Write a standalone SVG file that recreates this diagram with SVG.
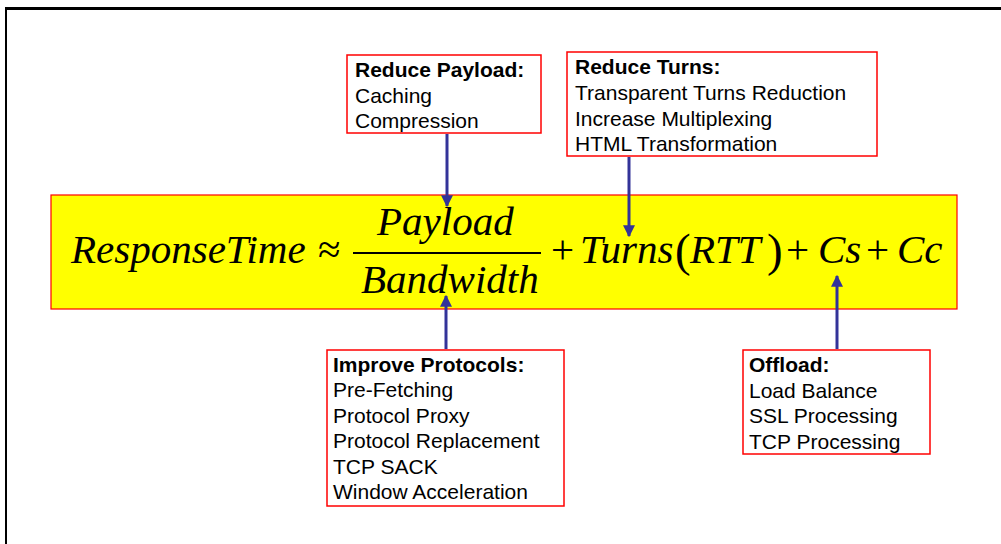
<svg xmlns="http://www.w3.org/2000/svg" width="1001" height="544" viewBox="0 0 1001 544">
<defs>
<style>
.box{fill:#ffffff;stroke:#ff0000;stroke-width:1.5}
.t{font-family:"Liberation Sans",Arial,sans-serif;font-size:21px;fill:#000}
.b{font-weight:bold}
.m{font-family:"Liberation Serif","Times New Roman",serif;font-size:41px;font-style:italic;fill:#000}
.o{font-family:"Liberation Serif","Times New Roman",serif;font-size:41px;fill:#000}
.p{font-family:"Liberation Serif","Times New Roman",serif;font-size:47px;fill:#000}
.c{stroke:#333399;stroke-width:3;fill:none}
</style>
<marker id="ah" markerWidth="4" markerHeight="4" refX="3.6" refY="2" orient="auto" markerUnits="strokeWidth">
<path d="M0,0 L4,2 L0,4 Z" fill="#333399"/>
</marker>
</defs>
<rect width="1001" height="544" fill="#ffffff"/>
<rect x="5" y="7" width="996" height="3" fill="#000"/>
<rect x="5" y="7" width="2" height="537" fill="#000"/>

<g id="formula">
<rect x="51" y="195" width="906" height="114" fill="#ffff00" stroke="#ff0000" stroke-width="1.2"/>
<text class="m" x="71" y="263">ResponseTime</text>
<text class="o" x="318" y="263">≈</text>
<text class="m" x="377" y="235">Payload</text>
<line x1="353" y1="253" x2="541" y2="253" stroke="#000" stroke-width="1.8"/>
<text class="m" x="361" y="293">Bandwidth</text>
<text class="o" x="551" y="263">+</text>
<text class="m" x="580" y="263">Turns</text>
<text class="p" x="675" y="266">(</text>
<text class="m" x="690" y="263">RTT</text>
<text class="p" x="767" y="266">)</text>
<text class="o" x="786" y="263">+</text>
<text class="m" x="818" y="263">Cs</text>
<text class="o" x="866" y="263">+</text>
<text class="m" x="897" y="263">Cc</text>
</g>

<g id="reduce-payload">
<rect class="box" x="347" y="55" width="194" height="78"/>
<text class="t b" x="355" y="77">Reduce Payload:</text>
<text class="t" x="355" y="103">Caching</text>
<text class="t" x="355" y="128">Compression</text>
</g>

<g id="reduce-turns">
<rect class="box" x="567" y="52" width="310" height="104"/>
<text class="t b" x="575" y="74">Reduce Turns:</text>
<text class="t" x="575" y="100">Transparent Turns Reduction</text>
<text class="t" x="575" y="126">Increase Multiplexing</text>
<text class="t" x="575" y="151">HTML Transformation</text>
</g>

<g id="improve-protocols">
<rect class="box" x="327" y="350" width="237" height="156"/>
<text class="t b" x="333" y="372">Improve Protocols:</text>
<text class="t" x="333" y="397">Pre-Fetching</text>
<text class="t" x="333" y="423">Protocol Proxy</text>
<text class="t" x="333" y="448">Protocol Replacement</text>
<text class="t" x="333" y="474">TCP SACK</text>
<text class="t" x="333" y="499">Window Acceleration</text>
</g>

<g id="offload">
<rect class="box" x="743" y="350" width="187" height="104"/>
<text class="t b" x="749" y="372">Offload:</text>
<text class="t" x="749" y="398">Load Balance</text>
<text class="t" x="749" y="423">SSL Processing</text>
<text class="t" x="749" y="449">TCP Processing</text>
</g>

<g id="connectors">
<line class="c" x1="447" y1="134" x2="447" y2="206" marker-end="url(#ah)"/>
<line class="c" x1="629" y1="157" x2="629" y2="236" marker-end="url(#ah)"/>
<line class="c" x1="446" y1="349" x2="446" y2="296" marker-end="url(#ah)"/>
<line class="c" x1="837" y1="349" x2="837" y2="276" marker-end="url(#ah)"/>
</g>
</svg>
